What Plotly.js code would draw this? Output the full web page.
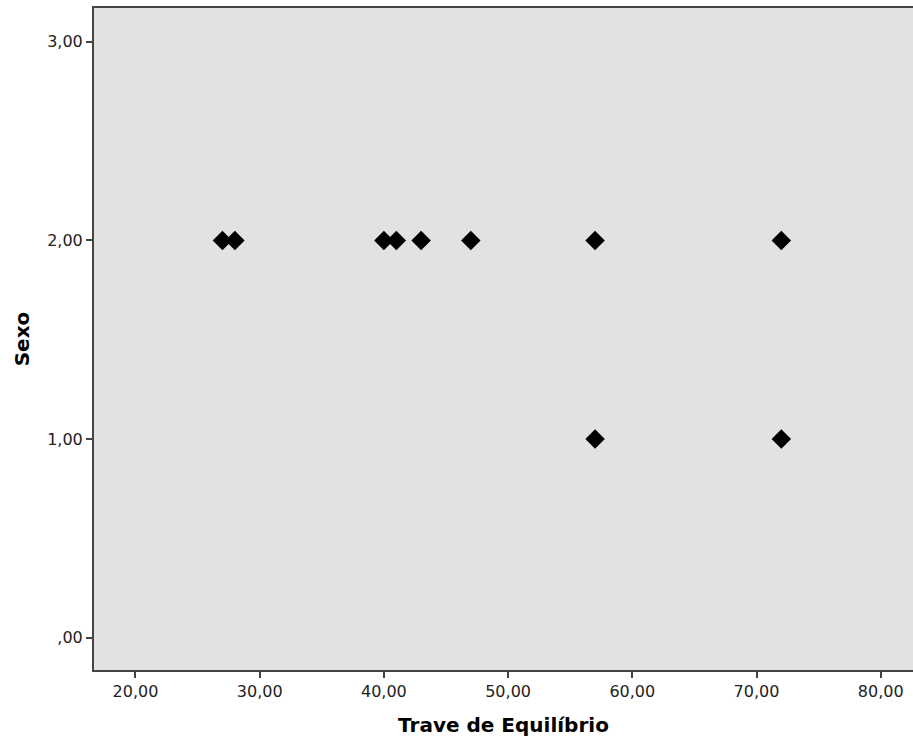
<!DOCTYPE html>
<html>
<head>
<meta charset="utf-8">
<script src="https://cdn.plot.ly/plotly-3.0.1.min.js"></script>
<style>html,body{margin:0;padding:0;background:#fff;}#chart{width:913px;height:742px;}</style>
</head>
<body>
<div id="chart"></div>
<script>
// Data
const traveEquilibrio = [27, 28, 40, 41, 43, 47, 57, 72, 57, 72];
const sexo            = [2, 2, 2, 2, 2, 2, 2, 2, 1, 1];
const xTickVals = [20, 30, 40, 50, 60, 70, 80];
const xTickText = ["20,00", "30,00", "40,00", "50,00", "60,00", "70,00", "80,00"];
const yTickVals = [0, 1, 2, 3];
const yTickText = [",00", "1,00", "2,00", "3,00"];

const trace = {
  x: traveEquilibrio,
  y: sexo,
  type: 'scatter',
  mode: 'markers',
  marker: { symbol: 'diamond', size: 15, color: '#000000', line: { width: 0 } },
  hoverinfo: 'x+y'
};

const layout = {
  width: 913,
  height: 742,
  margin: { l: 94, r: 0, t: 8, b: 72 },
  paper_bgcolor: '#ffffff',
  plot_bgcolor: '#e2e2e2',
  showlegend: false,
  font: { family: 'DejaVu Sans, sans-serif', color: '#222222' },
  xaxis: {
    range: [16.66, 82.6],
    tickvals: xTickVals,
    ticktext: xTickText,
    ticks: 'outside',
    ticklen: 6,
    tickwidth: 2,
    tickcolor: '#444444',
    showgrid: false,
    zeroline: false,
    showline: true,
    linecolor: '#444444',
    linewidth: 2,
    mirror: true,
    tickfont: { size: 16, family: 'DejaVu Sans, sans-serif', color: '#222222' },
    title: { text: 'Trave de Equilíbrio', font: { size: 20, family: 'DejaVu Sans, sans-serif', color: '#000000', weight: 'bold' }, standoff: 18 }
  },
  yaxis: {
    range: [-0.163, 3.17],
    tickvals: yTickVals,
    ticktext: yTickText,
    ticks: 'outside',
    ticklen: 6,
    tickwidth: 2,
    tickcolor: '#444444',
    showgrid: false,
    zeroline: false,
    showline: true,
    linecolor: '#444444',
    linewidth: 2,
    mirror: false,
    tickfont: { size: 16, family: 'DejaVu Sans, sans-serif', color: '#222222' },
    title: { text: 'Sexo', font: { size: 20, family: 'DejaVu Sans, sans-serif', color: '#000000', weight: 'bold' }, standoff: 12 }
  }
};

Plotly.newPlot('chart', [trace], layout, { displayModeBar: false, staticPlot: true });
</script>
</body>
</html>
